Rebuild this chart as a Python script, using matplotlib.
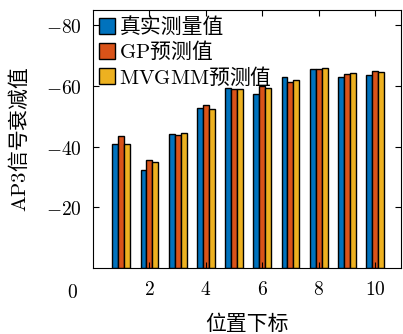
import matplotlib
matplotlib.use("Agg")
import matplotlib.pyplot as plt
import numpy as np

plt.rcParams['font.family'] = ['Noto Sans CJK SC', 'DejaVu Serif']
plt.rcParams['mathtext.fontset'] = 'cm'

positions = np.arange(1, 11)
measured = [-40.9, -32.4, -44.2, -52.7, -59.2, -57.3, -63.0, -65.6, -63.0, -63.6]
gp_pred = [-43.6, -35.6, -43.8, -53.7, -58.9, -59.8, -61.2, -65.5, -63.8, -64.9]
mvgmm_pred = [-40.7, -34.8, -44.6, -52.5, -59.1, -59.4, -61.9, -65.8, -64.3, -64.6]

series = [measured, gp_pred, mvgmm_pred]
labels = ['真实测量值', r'$\mathrm{GP}$预测值', r'$\mathrm{MVGMM}$预测值']
colors = ['#0072BD', '#D95319', '#EDB120']

fig = plt.figure(figsize=(4.03, 3.34), dpi=100)
ax = fig.add_axes([93 / 403, 66 / 334, 308 / 403, 258 / 334])

w = 0.21
for i, (vals, lab, c) in enumerate(zip(series, labels, colors)):
    ax.bar(positions + (i - 1) * w, vals, width=w, color=c, edgecolor='black',
           linewidth=1.0, label=lab)

ax.set_xlim(0, 10.92)
ax.set_ylim(0, -85)
ax.set_xticks([2, 4, 6, 8, 10])
ax.set_xticklabels([f'${t}$' for t in [2, 4, 6, 8, 10]])
ax.set_yticks([-80, -60, -40, -20])
ax.set_yticklabels([f'$-{abs(t)}$' for t in [-80, -60, -40, -20]])
ax.tick_params(direction='in', top=True, right=True, length=4, labelsize=14, pad=8)
for s in ax.spines.values():
    s.set_linewidth(0.8)

# stray "0" label in the corner
fig.text(72 / 403, 1 - 293 / 334, '$0$', ha='center', va='center', fontsize=14)

ax.set_xlabel('位置下标', fontsize=15, labelpad=9)
ax.set_ylabel(r'$\mathrm{AP3}$信号衰减值', fontsize=15, labelpad=11)

ax.legend(loc='upper left', fontsize=15, frameon=False, handlelength=0.77,
          handleheight=0.8, handletextpad=0.2, labelspacing=0.1,
          borderaxespad=0.1, borderpad=0.2)

fig.savefig('out.png', dpi=100)
